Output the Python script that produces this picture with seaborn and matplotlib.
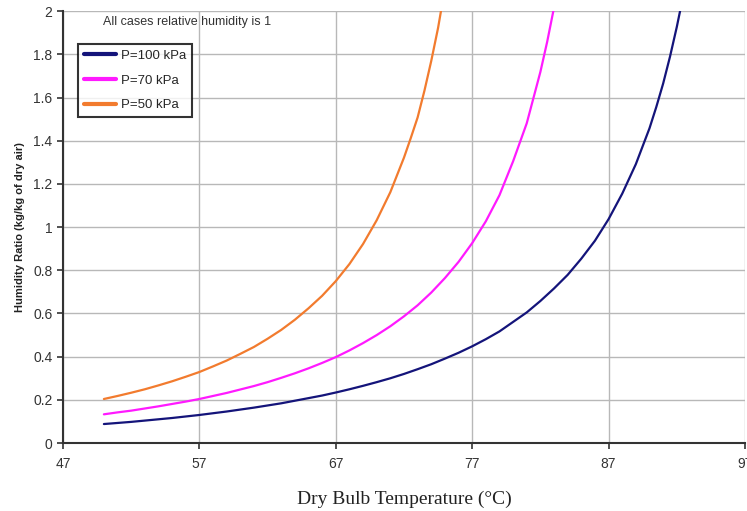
import pandas as pd
import matplotlib.pyplot as plt
import seaborn as sns

# values (humidity ratio, kg/kg dry air)
temp_100 = [50, 51, 52, 53, 54, 55, 56, 57, 58, 59, 60, 61, 62, 63, 64, 65, 66, 67, 68, 69, 70,
            71, 72, 73, 74, 75, 76, 77, 78, 79, 80, 81, 82, 83, 84, 85, 86, 87, 88, 89, 90,
            90.5, 91, 91.5, 92, 92.5]
w_100 = [0.088, 0.093, 0.098, 0.104, 0.110, 0.116, 0.123, 0.130, 0.138, 0.146, 0.155, 0.164,
         0.174, 0.184, 0.196, 0.208, 0.220, 0.234, 0.249, 0.265, 0.282, 0.300, 0.320, 0.342,
         0.365, 0.391, 0.418, 0.448, 0.481, 0.517, 0.561, 0.605, 0.658, 0.716, 0.779, 0.854,
         0.937, 1.037, 1.155, 1.292, 1.458, 1.557, 1.665, 1.789, 1.927, 2.08]

temp_70 = [50, 51, 52, 53, 54, 55, 56, 57, 58, 59, 60, 61, 62, 63, 64, 65, 66, 67, 68, 69, 70,
           71, 72, 73, 74, 75, 76, 77, 78, 79, 80, 81, 82, 82.5, 83, 83.5]
w_70 = [0.133, 0.142, 0.150, 0.160, 0.170, 0.181, 0.192, 0.204, 0.218, 0.232, 0.248, 0.264,
        0.282, 0.302, 0.323, 0.346, 0.371, 0.398, 0.429, 0.463, 0.500, 0.541, 0.587, 0.638,
        0.697, 0.764, 0.839, 0.926, 1.027, 1.148, 1.305, 1.481, 1.719, 1.859, 2.017, 2.196]

temp_50 = [50, 51, 52, 53, 54, 55, 56, 57, 58, 59, 60, 61, 62, 63, 64, 65, 66, 67, 68, 69, 70,
           71, 72, 72.5, 73, 73.5, 74, 74.5, 75]
w_50 = [0.204, 0.218, 0.233, 0.249, 0.267, 0.286, 0.307, 0.329, 0.355, 0.382, 0.413, 0.445,
        0.483, 0.524, 0.571, 0.624, 0.682, 0.750, 0.829, 0.922, 1.032, 1.162, 1.322, 1.413,
        1.508, 1.632, 1.770, 1.923, 2.106]

labels = ["P=100 kPa", "P=70 kPa", "P=50 kPa"]
colors = ["#14147a", "#ff1aff", "#f27b2e"]

df = pd.concat([
    pd.DataFrame({"T": temp_100, "w": w_100, "series": labels[0]}),
    pd.DataFrame({"T": temp_70, "w": w_70, "series": labels[1]}),
    pd.DataFrame({"T": temp_50, "w": w_50, "series": labels[2]}),
])

sns.set_style("white")
plt.rcParams['font.family'] = ['Liberation Sans', 'DejaVu Sans']

fig = plt.figure(figsize=(7.47, 5.11), dpi=100)
ax = fig.add_axes([0.0843, 0.133, 0.913, 0.845])

sns.lineplot(data=df, x="T", y="w", hue="series", hue_order=labels,
             palette=colors, linewidth=1.6, sort=False, ax=ax)

ax.set_xlim(47, 97)
ax.set_ylim(0, 2)
ax.set_xticks(range(47, 98, 10))
ax.set_yticks([i * 0.2 for i in range(11)])
ax.set_yticklabels(["0", "0.2", "0.4", "0.6", "0.8", "1", "1.2", "1.4", "1.6", "1.8", "2"])
ax.grid(True, color="#b8b8b8", linewidth=1)
ax.set_axisbelow(True)

for s in ["top", "right"]:
    ax.spines[s].set_visible(False)
for s in ["left", "bottom"]:
    ax.spines[s].set_color("#333333")
    ax.spines[s].set_linewidth(1.5)

ax.tick_params(axis="both", direction="out", length=4, width=1.2, color="#333333",
               labelsize=10, labelcolor="#333333", left=True, bottom=True)
ax.tick_params(axis="x", pad=6)

ax.set_xlabel("Dry Bulb Temperature (°C)", family="Liberation Serif", fontsize=14,
              color="#222222", labelpad=14)
ax.set_ylabel("Humidity Ratio (kg/kg of dry air)", fontsize=8, fontweight="bold",
              color="#222222", labelpad=6)

ax.text(0.058, 0.99, "All cases relative humidity is 1", transform=ax.transAxes,
        fontsize=9, color="#333333", va="top")

leg = ax.legend(loc="upper left", bbox_to_anchor=(0.022, 0.925), fontsize=9.5, fancybox=False,
                frameon=True, edgecolor="black", borderpad=0.45, handlelength=2.4,
                handletextpad=0.4, labelspacing=0.95, borderaxespad=0)
leg.get_frame().set_linewidth(1.5)
for line in leg.get_lines():
    line.set_linewidth(3)

fig.savefig("out.png", dpi=100)
